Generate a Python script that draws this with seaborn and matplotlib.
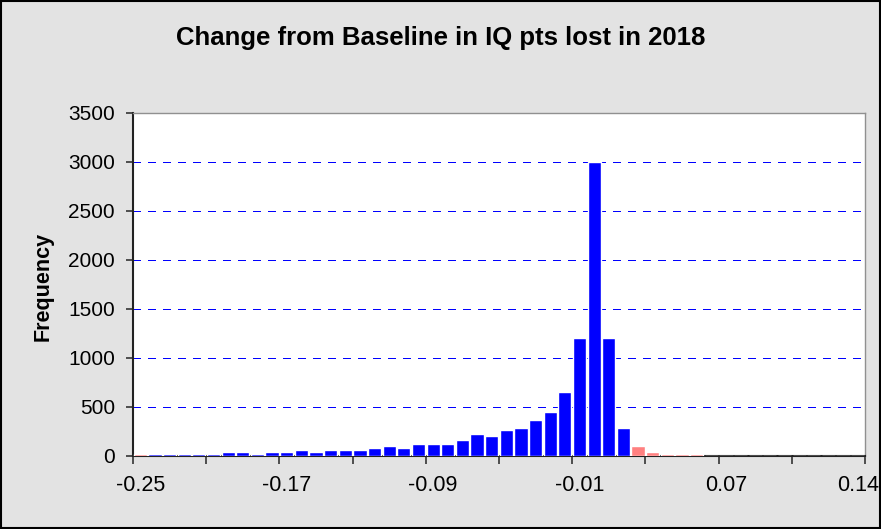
import numpy as np
import pandas as pd
import seaborn as sns
import matplotlib.pyplot as plt
from matplotlib.patches import Rectangle

# histogram of change from baseline (bin width 0.008)
bin_start = -0.25
bin_width = 0.008
counts = [20, 20, 20, 20, 20, 20, 40, 40, 20, 40,
          40, 60, 40, 60, 60, 60, 80, 100, 80, 120,
          120, 120, 160, 220, 200, 260, 280, 365, 445, 650,
          1200, 3000, 1200, 280, 100, 40, 20, 20, 20, 0,
          0, 0, 0, 0, 0, 0, 0, 0, 0, 0]
# bars drawn in the light red tail colour
tail_bins = [0, 34, 35, 36, 37, 38]
label_bins = [0, 10, 20, 30, 40, 49]
y_ticks = [0, 500, 1000, 1500, 2000, 2500, 3000, 3500]

centers = [bin_start + bin_width * i for i in range(len(counts))]
df = pd.DataFrame({
    'bin': [f'{c:.3f}' for c in centers],
    'count': counts,
    'part': ['tail' if i in tail_bins else 'core' for i in range(len(counts))],
})

sns.set_theme(style='white')
plt.rcParams['font.family'] = ['Liberation Sans', 'DejaVu Sans']
plt.rcParams['text.color'] = 'black'
plt.rcParams['xtick.labelcolor'] = 'black'
plt.rcParams['ytick.labelcolor'] = 'black'

bg = '#E3E3E3'
fig = plt.figure(figsize=(8.81, 5.29), dpi=100, facecolor=bg)
ax = fig.add_axes([133 / 881, 1 - 455.5 / 529, 732 / 881, 342.5 / 529])
ax.set_facecolor('white')

sns.barplot(data=df, x='bin', y='count', hue='part',
            palette={'core': '#0000FF', 'tail': '#FF8080'},
            dodge=False, width=0.9, saturation=1, legend=False, ax=ax,
            zorder=3)

n = len(counts)
ax.set_xlim(-0.5, n - 0.5)
ax.set_ylim(0, 3500)

# dashed blue gridlines
for v in y_ticks[1:-1]:
    ax.axhline(v, color='#0000FF', lw=0.72, ls=(0, (8, 7)), snap=True,
               antialiased=False, zorder=1)

ax.set_yticks(y_ticks)
ax.set_yticklabels([str(v) for v in y_ticks], fontsize=15)

# ticks between bins every 5 bins, labels at bin centres
ax.set_xticks(np.arange(-0.5, n, 5))
ax.set_xticklabels([])
ax.set_xticks(label_bins, minor=True)
ax.set_xticklabels([f'{centers[i]:.2f}' for i in label_bins], minor=True, fontsize=15.5)
ax.tick_params(axis='x', which='major', length=6, width=1.2, color='#333333', direction='out')
ax.tick_params(axis='x', which='minor', length=0, pad=14)
ax.tick_params(axis='y', length=5, width=1.2, color='#333333', direction='out', pad=8)
ax.tick_params(bottom=True, left=True)

for s in ['left', 'bottom']:
    ax.spines[s].set_color('#222222')
    ax.spines[s].set_linewidth(1.5)
for s in ['top', 'right']:
    ax.spines[s].set_color('#909090')
    ax.spines[s].set_linewidth(1)

ax.set_xlabel('')
ax.set_ylabel('')

fig.text(0.5, 1 - 38 / 529, 'Change from Baseline in IQ pts lost in 2018',
         ha='center', va='center', fontsize=18.5, fontweight='bold')
fig.text(43.5 / 881, 1 - 286 / 529, 'Frequency', rotation=90,
         ha='center', va='center', fontsize=15.5, fontweight='bold')

fig.patches.append(Rectangle((0.001, 0.001), 0.998, 0.998, transform=fig.transFigure,
                             fill=False, edgecolor='black', lw=1.5))

fig.savefig('out.png', dpi=100, facecolor=bg)
